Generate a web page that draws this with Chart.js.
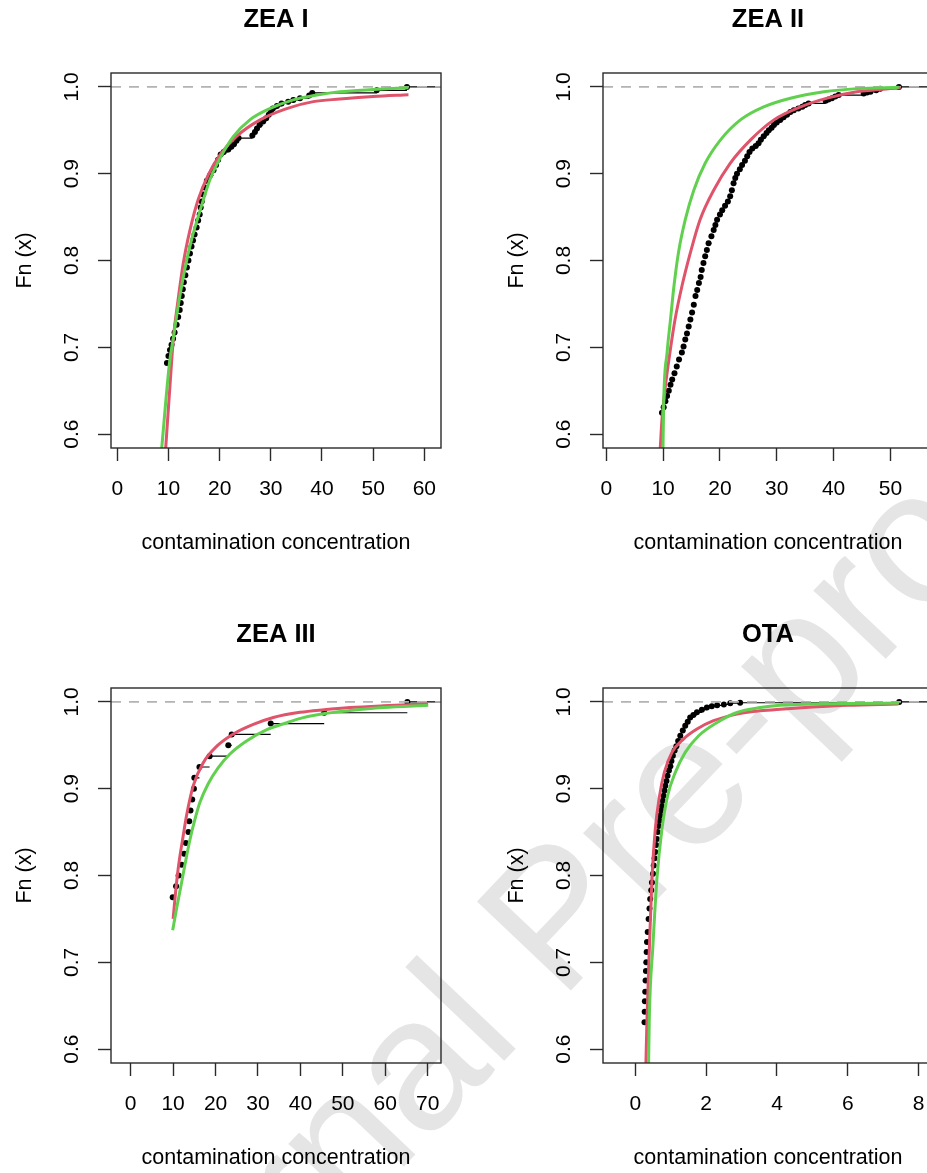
<!DOCTYPE html>
<html>
<head>
<meta charset="utf-8">
<title>Empirical CDF with fitted distributions</title>
<script src="https://cdn.jsdelivr.net/npm/chart.js@4.4.1/dist/chart.umd.min.js"></script>
<style>
  html, body { margin: 0; padding: 0; background: #fff; overflow: hidden; }
  #page { position: relative; width: 927px; height: 1173px; overflow: hidden; background: #fff; }
  #page canvas { position: absolute; }
  #stamp {
    position: absolute; left: 100px; top: 1487px;
    font: 188px "Liberation Sans", Arial, Helvetica, sans-serif;
    line-height: 1; white-space: nowrap; color: #e5e5e5;
    transform-origin: 0 0; transform: rotate(-46.5deg) translateY(-0.8465em);
  }
</style>
</head>
<body>
<div id="page">
  <div id="stamp">Journal Pre-proof</div>
  <canvas id="zea1" width="552" height="600" style="left:0;top:0"></canvas>
  <canvas id="zea2" width="552" height="600" style="left:492px;top:0"></canvas>
  <canvas id="zea3" width="552" height="600" style="left:0;top:615px"></canvas>
  <canvas id="ota" width="552" height="600" style="left:492px;top:615px"></canvas>
</div>
<script>
// shared y ticks (Fn(x))
const yTicks = [0.6, 0.7, 0.8, 0.9, 1.0];

// ---- ZEA I ----
const zea1Ticks = [0, 10, 20, 30, 40, 50, 60];
const zea1EcdfX = [9.7, 10.0, 10.3, 10.6, 10.9, 11.2, 11.6, 11.9, 12.2, 12.4, 12.6, 12.8, 13.0, 13.3, 13.6, 13.9, 14.2, 14.5, 14.8, 15.1, 15.5, 15.8, 16.1, 16.3, 16.5, 16.8, 17.1, 17.5, 18.1, 18.8, 19.3, 19.7, 20.2, 20.8, 21.7, 22.3, 22.8, 23.3, 23.7, 26.4, 26.9, 27.3, 27.8, 28.5, 29.1, 29.6, 30.0, 30.4, 31.2, 32.1, 33.4, 34.4, 35.7, 37.5, 38.1, 50.7, 56.6];
const zea1EcdfY = [0.682, 0.690, 0.697, 0.703, 0.710, 0.717, 0.726, 0.735, 0.743, 0.751, 0.759, 0.767, 0.775, 0.783, 0.792, 0.800, 0.808, 0.816, 0.823, 0.830, 0.838, 0.846, 0.853, 0.861, 0.868, 0.876, 0.884, 0.892, 0.898, 0.904, 0.910, 0.916, 0.922, 0.925, 0.928, 0.931, 0.934, 0.938, 0.941, 0.944, 0.948, 0.952, 0.956, 0.960, 0.964, 0.968, 0.972, 0.975, 0.978, 0.981, 0.983, 0.985, 0.987, 0.990, 0.993, 0.996, 1.0];
const zea1RedX = [9.46, 10.6, 11.0, 11.8, 12.9, 14.2, 15.8, 17.8, 20.1, 23.3, 27.9, 33.1, 38.3, 43.5, 50.0, 56.9];
const zea1RedY = [0.584, 0.682, 0.713, 0.751, 0.797, 0.835, 0.870, 0.899, 0.922, 0.943, 0.962, 0.975, 0.983, 0.986, 0.989, 0.991];
const zea1GreenX = [8.68, 10.2, 11.0, 12.0, 13.2, 14.6, 16.2, 18.1, 20.1, 22.7, 25.9, 29.8, 34.4, 39.0, 43.5, 50.0, 56.9];
const zea1GreenY = [0.584, 0.682, 0.713, 0.751, 0.790, 0.826, 0.858, 0.893, 0.918, 0.943, 0.962, 0.975, 0.985, 0.9906, 0.9944, 0.997, 0.999];

// ---- ZEA II ----
const zea2Ticks = [0, 10, 20, 30, 40, 50];
const zea2EcdfX = [9.8, 10.1, 10.4, 10.7, 11.0, 11.3, 11.6, 12.0, 12.4, 12.8, 13.3, 13.6, 13.9, 14.2, 14.5, 14.8, 15.1, 15.4, 15.7, 16.0, 16.3, 16.6, 16.8, 17.1, 17.4, 17.7, 18.0, 18.5, 18.9, 19.2, 19.5, 20.0, 20.4, 20.9, 21.4, 21.8, 22.1, 22.4, 22.7, 23.0, 23.5, 23.9, 24.4, 24.8, 25.2, 25.7, 26.3, 26.8, 27.2, 27.7, 28.2, 28.6, 29.1, 29.5, 30.0, 30.6, 31.2, 31.8, 32.4, 33.0, 33.8, 34.5, 35.0, 35.6, 38.6, 39.1, 39.7, 40.3, 40.9, 45.3, 45.9, 46.5, 47.5, 48.2, 51.5];
const zea2EcdfY = [0.6245, 0.631, 0.638, 0.644, 0.650, 0.657, 0.663, 0.670, 0.678, 0.686, 0.694, 0.701, 0.709, 0.716, 0.724, 0.732, 0.740, 0.749, 0.759, 0.766, 0.774, 0.781, 0.789, 0.797, 0.805, 0.812, 0.820, 0.828, 0.835, 0.841, 0.847, 0.853, 0.858, 0.863, 0.868, 0.874, 0.881, 0.889, 0.895, 0.900, 0.905, 0.910, 0.915, 0.920, 0.925, 0.929, 0.932, 0.935, 0.939, 0.943, 0.947, 0.950, 0.953, 0.956, 0.959, 0.962, 0.965, 0.968, 0.971, 0.973, 0.975, 0.977, 0.979, 0.981, 0.984, 0.9855, 0.987, 0.989, 0.9906, 0.9925, 0.9935, 0.9944, 0.996, 0.998, 1.0];
const zea2RedX = [9.5, 9.8, 10.4, 11.2, 12.1, 13.3, 14.8, 16.5, 18.9, 21.8, 25.4, 29.5, 34.2, 38.9, 44.1, 51.8];
const zea2RedY = [0.584, 0.617, 0.655, 0.694, 0.732, 0.770, 0.809, 0.847, 0.881, 0.912, 0.939, 0.962, 0.977, 0.987, 0.9944, 0.999];
const zea2GreenX = [9.98, 10.1, 10.7, 11.3, 11.9, 12.7, 13.9, 15.4, 17.4, 20.1, 23.6, 27.7, 32.4, 38.3, 44.1, 51.5];
const zea2GreenY = [0.584, 0.636, 0.694, 0.732, 0.770, 0.809, 0.847, 0.881, 0.912, 0.939, 0.962, 0.977, 0.987, 0.9944, 0.998, 0.9995];

// ---- ZEA III ----
const zea3Ticks = [0, 10, 20, 30, 40, 50, 60, 70];
const zea3EcdfX = [9.9, 10.7, 11.3, 12.0, 12.6, 13.0, 13.6, 13.8, 14.1, 14.5, 14.9, 15.0, 16.2, 18.6, 23.0, 23.8, 33.0, 45.6, 65.2];
const zea3EcdfY = [0.775, 0.7875, 0.8, 0.8125, 0.825, 0.8375, 0.85, 0.8625, 0.875, 0.8875, 0.9, 0.9125, 0.925, 0.9375, 0.95, 0.9625, 0.975, 0.9875, 1.0];
const zea3RedX = [10.0, 10.6, 11.3, 12.25, 13.2, 14.75, 17.1, 20.3, 24.2, 28.9, 33.6, 39.9, 45.6, 51.7, 59.5, 70.1];
const zea3RedY = [0.750, 0.782, 0.812, 0.842, 0.870, 0.9035, 0.930, 0.949, 0.963, 0.974, 0.982, 0.988, 0.991, 0.9935, 0.9955, 0.9975];
const zea3GreenX = [9.9, 10.9, 12.0, 13.0, 14.0, 15.0, 16.3, 18.3, 20.6, 23.4, 27.3, 32.1, 36.8, 40.0, 45.0, 51.7, 59.5, 70.1];
const zea3GreenY = [0.737, 0.764, 0.792, 0.818, 0.842, 0.862, 0.884, 0.906, 0.924, 0.940, 0.955, 0.968, 0.976, 0.981, 0.986, 0.990, 0.9935, 0.996];

// ---- OTA ----
const otaTicks = [0, 2, 4, 6, 8];
const otaEcdfX = [0.26, 0.265, 0.27, 0.28, 0.29, 0.30, 0.31, 0.32, 0.33, 0.35, 0.376, 0.40, 0.42, 0.45, 0.47, 0.50, 0.52, 0.545, 0.565, 0.59, 0.61, 0.635, 0.66, 0.685, 0.706, 0.73, 0.75, 0.775, 0.80, 0.825, 0.847, 0.88, 0.91, 0.95, 0.99, 1.02, 1.06, 1.11, 1.16, 1.21, 1.27, 1.34, 1.41, 1.48, 1.55, 1.64, 1.74, 1.88, 2.02, 2.16, 2.31, 2.5, 2.68, 2.96, 7.45];
const otaEcdfY = [0.631, 0.643, 0.655, 0.666, 0.679, 0.690, 0.700, 0.712, 0.7235, 0.735, 0.750, 0.762, 0.773, 0.783, 0.792, 0.802, 0.8115, 0.820, 0.827, 0.835, 0.842, 0.850, 0.857, 0.863, 0.869, 0.875, 0.880, 0.886, 0.892, 0.898, 0.9035, 0.909, 0.915, 0.921, 0.926, 0.932, 0.938, 0.944, 0.949, 0.955, 0.961, 0.967, 0.9724, 0.977, 0.982, 0.985, 0.988, 0.991, 0.9935, 0.995, 0.996, 0.997, 0.9985, 0.999, 1.0];
const otaRedX = [0.30, 0.33, 0.40, 0.47, 0.565, 0.686, 0.82, 1.035, 1.36, 1.74, 2.21, 2.87, 3.53, 4.09, 5.0, 6.0, 7.43];
const otaRedY = [0.584, 0.635, 0.7195, 0.796, 0.8537, 0.892, 0.9188, 0.9418, 0.9572, 0.9687, 0.9783, 0.9859, 0.9897, 0.9916, 0.994, 0.996, 0.9975];
const otaGreenX = [0.376, 0.395, 0.498, 0.61, 0.753, 0.913, 1.13, 1.41, 1.79, 2.31, 2.87, 3.53, 4.09, 5.0, 6.0, 7.45];
const otaGreenY = [0.584, 0.635, 0.7195, 0.796, 0.8537, 0.892, 0.9188, 0.9418, 0.961, 0.9763, 0.9878, 0.9935, 0.9962, 0.9975, 0.9982, 0.9987];

const RED = '#DF536B';
const GREEN = '#61D04F';
const AXIS = '#2a2a2a';

Chart.defaults.font.family = '"Liberation Sans", Arial, Helvetica, sans-serif';
Chart.defaults.color = '#000';

function xy(xs, ys) {
  return xs.map((x, i) => ({ x: x, y: ys[i] }));
}

// horizontal pieces of the step function, last one runs to the right edge
function steps(xs, ys, xEnd) {
  const pts = [];
  xs.forEach((x, i) => {
    const next = i + 1 < xs.length ? xs[i + 1] : xEnd;
    pts.push({ x: x, y: ys[i] }, { x: next, y: ys[i] }, { x: next, y: null });
  });
  return pts;
}

// plot frame around the chart area
const framePlugin = {
  id: 'frame',
  afterDatasetsDraw(chart) {
    const { ctx, chartArea: a } = chart;
    ctx.save();
    ctx.strokeStyle = AXIS;
    ctx.lineWidth = 1.4;
    ctx.strokeRect(a.left, a.top, a.right - a.left, a.bottom - a.top);
    ctx.restore();
  }
};

function tickGrid() {
  return { display: true, drawOnChartArea: false, drawTicks: true, tickLength: 13, tickColor: AXIS, tickWidth: 1.4 };
}

function drawPanel(id, title, xMin, xMax, xTicks, ecdfX, ecdfY, redX, redY, greenX, greenY) {
  return new Chart(document.getElementById(id), {
    type: 'line',
    data: {
      datasets: [
        { label: 'green', data: xy(greenX, greenY), borderColor: GREEN, borderWidth: 3,
          pointRadius: 0, cubicInterpolationMode: 'monotone', clip: 0 },
        { label: 'red', data: xy(redX, redY), borderColor: RED, borderWidth: 3,
          pointRadius: 0, cubicInterpolationMode: 'monotone', clip: 0 },
        { label: 'h1', data: [{ x: xMin, y: 1 }, { x: xMax, y: 1 }], borderColor: '#b3b3b3',
          borderWidth: 1.8, borderDash: [10, 8], pointRadius: 0, clip: 0 },
        { label: 'Fn', data: xy(ecdfX, ecdfY), showLine: false, pointRadius: 3,
          pointBackgroundColor: '#000', pointBorderWidth: 0, clip: 0 },
        { label: 'Fn steps', data: steps(ecdfX, ecdfY, xMax), borderColor: '#000',
          borderWidth: 1.2, pointRadius: 0, spanGaps: false, clip: 0 }
      ]
    },
    options: {
      responsive: false,
      animation: false,
      devicePixelRatio: 1,
      events: [],
      layout: { padding: { left: 0, right: 0, top: 0, bottom: 32 } },
      plugins: {
        legend: { display: false },
        tooltip: { enabled: false },
        title: {
          display: true, text: title, color: '#000',
          font: { size: 25.5, weight: 'bold' },
          padding: { top: 5, bottom: 37.4 }
        }
      },
      scales: {
        x: {
          type: 'linear', min: xMin, max: xMax,
          afterBuildTicks: s => { s.ticks = xTicks.map(v => ({ value: v })); },
          afterFit: s => { s.height = 120; },
          grid: tickGrid(),
          border: { display: false },
          ticks: { autoSkip: false, maxRotation: 0, color: '#000', font: { size: 21 }, padding: 16,
                   callback: v => String(v) },
          title: { display: true, text: 'contamination concentration', color: '#000',
                   font: { size: 21.5 }, padding: { top: 0, bottom: 12 } }
        },
        y: {
          type: 'linear', min: 0.584, max: 1.016,
          afterBuildTicks: s => { s.ticks = yTicks.map(v => ({ value: v })); },
          afterFit: s => { s.width = 111; },
          grid: tickGrid(),
          border: { display: false },
          ticks: { autoSkip: false, minRotation: 90, maxRotation: 90, crossAlign: 'center',
                   padding: 11, color: '#000', font: { size: 21 },
                   callback: v => v.toFixed(1) },
          title: { display: true, text: 'Fn (x)', color: '#000', font: { size: 21.5 },
                   padding: { top: 12, bottom: 0 } }
        },
        // empty right margin so the title sits over the plot box
        yRight: {
          type: 'linear', position: 'right', display: true,
          afterFit: s => { s.width = 111; },
          ticks: { display: false },
          grid: { display: false },
          border: { display: false }
        }
      }
    },
    plugins: [framePlugin]
  });
}

drawPanel('zea1', 'ZEA I', -1.23, 63.26, zea1Ticks, zea1EcdfX, zea1EcdfY, zea1RedX, zea1RedY, zea1GreenX, zea1GreenY);
drawPanel('zea2', 'ZEA II', -0.58, 57.5, zea2Ticks, zea2EcdfX, zea2EcdfY, zea2RedX, zea2RedY, zea2GreenX, zea2GreenY);
drawPanel('zea3', 'ZEA III', -4.64, 73.13, zea3Ticks, zea3EcdfX, zea3EcdfY, zea3RedX, zea3RedY, zea3GreenX, zea3GreenY);
drawPanel('ota', 'OTA', -0.912, 8.405, otaTicks, otaEcdfX, otaEcdfY, otaRedX, otaRedY, otaGreenX, otaGreenY);
</script>
</body>
</html>
